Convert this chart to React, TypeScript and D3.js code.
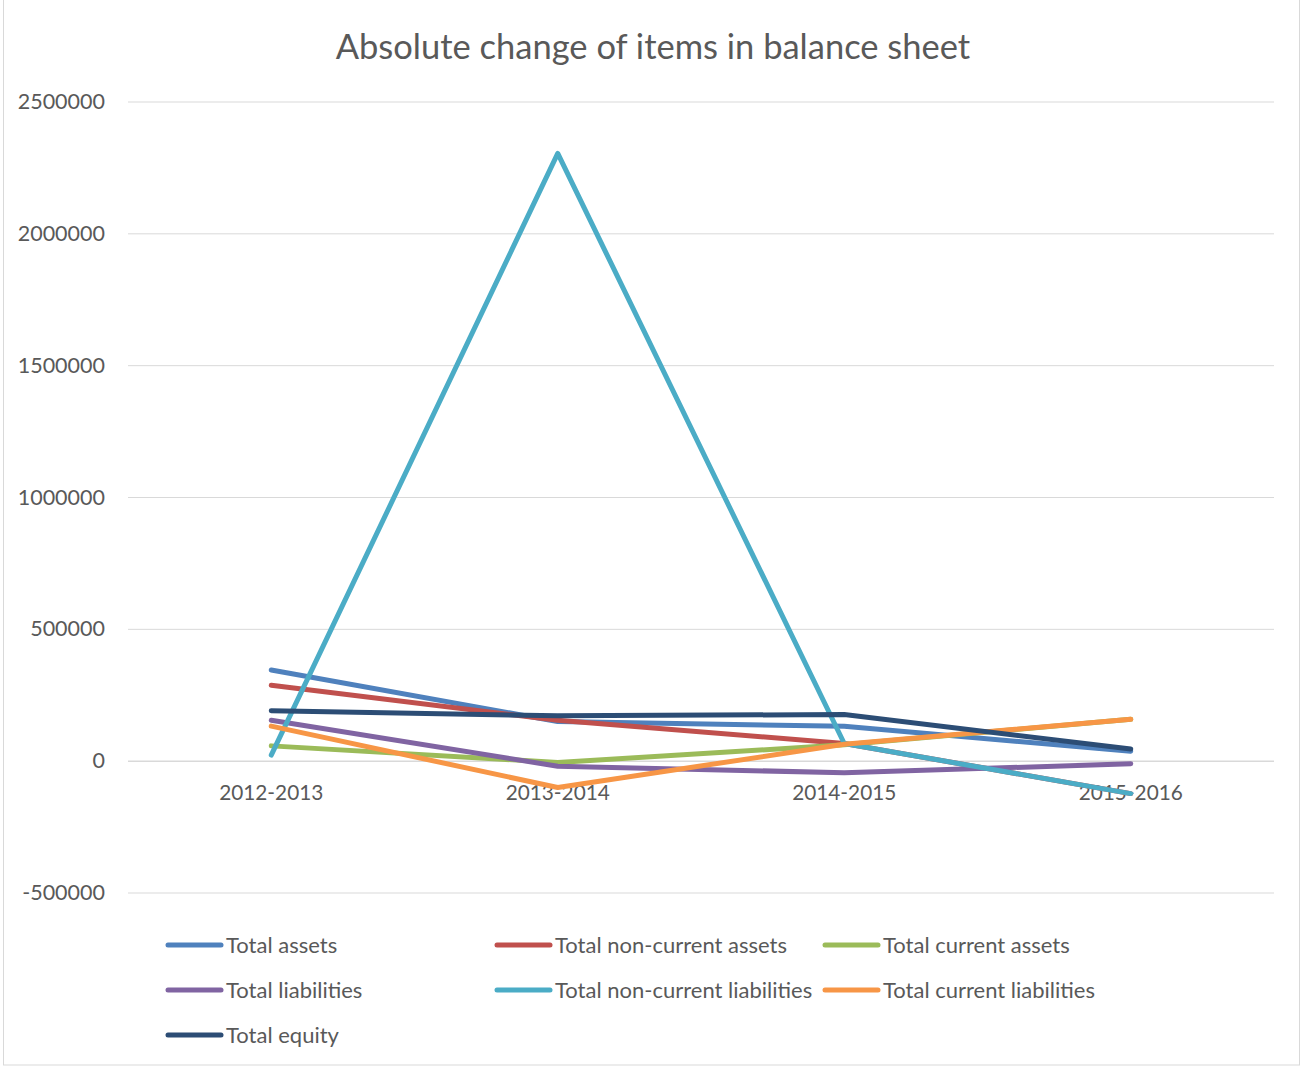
import React from "react";
import * as d3 from "d3";

const categories = ["2012-2013", "2013-2014", "2014-2015", "2015-2016"];
const seriesNames = [
  "Total assets",
  "Total non-current assets",
  "Total current assets",
  "Total liabilities",
  "Total non-current liabilities",
  "Total current liabilities",
  "Total equity",
];
const seriesColors = ["#4f81bd", "#c0504d", "#9bbb59", "#8064a2", "#4bacc6", "#f79646", "#2c4d75"];
const totalAssets = [346000, 150000, 132000, 38000];
const totalNonCurrentAssets = [288000, 155000, 67000, -123000];
const totalCurrentAssets = [58000, -5000, 62000, 159000];
const totalLiabilities = [155000, -19000, -44000, -10000];
const totalNonCurrentLiabilities = [23000, 2305000, 67000, -123000];
const totalCurrentLiabilities = [133000, -100000, 64000, 159000];
const totalEquity = [191000, 172000, 177000, 46000];
const seriesValues = [
  totalAssets,
  totalNonCurrentAssets,
  totalCurrentAssets,
  totalLiabilities,
  totalNonCurrentLiabilities,
  totalCurrentLiabilities,
  totalEquity,
];
const yTicks = [-500000, 0, 500000, 1000000, 1500000, 2000000, 2500000];

export default function App() {
  const W = 1303, H = 1068;
  const left = 128, right = 1274, top = 102, bottom = 893;
  const x = d3.scaleBand<string>().domain(categories).range([left, right]);
  const y = d3.scaleLinear().domain([-500000, 2500000]).range([bottom, top]);
  const line = d3
    .line<number>()
    .x((_, i) => (x(categories[i]) as number) + x.bandwidth() / 2)
    .y((d) => y(d));
  const font = "Lato, 'Open Sans', sans-serif";
  const textColor = "#595959";
  const legendCols = [168, 497, 825];
  const legendRows = [945, 990, 1035];
  return (
    <svg width={W} height={H} style={{ position: "absolute", left: 0, top: 0 }}>
      <rect x={0} y={0} width={W} height={H} fill="#fff" />
      <rect x={3.5} y={-2} width={1296} height={1067} fill="none" stroke="#d9d9d9" strokeWidth={1} />
      <text x={653} y={59} textAnchor="middle" fontFamily={font} fontSize={34.5} fill={textColor}>
        Absolute change of items in balance sheet
      </text>
      {yTicks.map((t) => (
        <g key={t}>
          <line x1={left} x2={right} y1={y(t)} y2={y(t)} stroke="#d9d9d9" strokeWidth={t === 0 ? 1.5 : 1} />
          <text x={105} y={y(t) + 7} textAnchor="end" fontFamily={font} fontSize={21.5} fill={textColor}>
            {t}
          </text>
        </g>
      ))}
      {categories.map((c) => (
        <text
          key={c}
          x={(x(c) as number) + x.bandwidth() / 2}
          y={800}
          textAnchor="middle"
          fontFamily={font}
          fontSize={20.8}
          fill={textColor}
        >
          {c}
        </text>
      ))}
      {seriesValues.map((vals, i) => (
        <path
          key={seriesNames[i]}
          d={line(vals) || ""}
          fill="none"
          stroke={seriesColors[i]}
          strokeWidth={5}
          strokeLinecap="round"
          strokeLinejoin="round"
        />
      ))}
      {seriesNames.map((name, i) => {
        const cx = legendCols[i % 3];
        const cy = legendRows[Math.floor(i / 3)];
        return (
          <g key={name}>
            <line x1={cx} x2={cx + 53} y1={cy} y2={cy} stroke={seriesColors[i]} strokeWidth={5} strokeLinecap="round" />
            <text x={cx + 58} y={cy + 7.5} fontFamily={font} fontSize={22} fill={textColor}>
              {name}
            </text>
          </g>
        );
      })}
    </svg>
  );
}
